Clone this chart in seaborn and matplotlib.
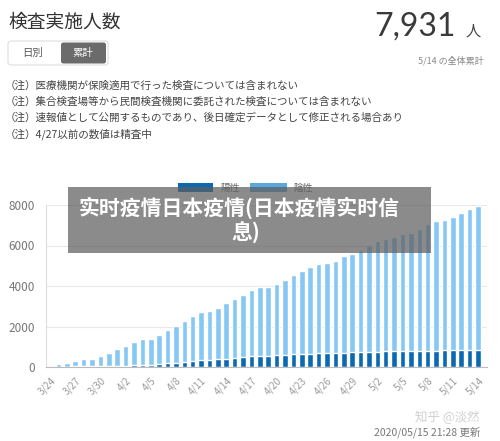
import numpy as np
import pandas as pd
import seaborn as sns
import matplotlib.pyplot as plt
from matplotlib.patches import Rectangle, FancyBboxPatch

sns.set_theme(style='white')
plt.rcParams['font.family'] = ['Noto Sans CJK JP', 'DejaVu Sans']

# data
dates = ['3/24', '3/25', '3/26', '3/27', '3/28', '3/29', '3/30', '3/31',
         '4/1', '4/2', '4/3', '4/4', '4/5', '4/6', '4/7', '4/8', '4/9', '4/10',
         '4/11', '4/12', '4/13', '4/14', '4/15', '4/16', '4/17', '4/18', '4/19',
         '4/20', '4/21', '4/22', '4/23', '4/24', '4/25', '4/26', '4/27', '4/28',
         '4/29', '4/30', '5/1', '5/2', '5/3', '5/4', '5/5', '5/6', '5/7', '5/8',
         '5/9', '5/10', '5/11', '5/12', '5/13', '5/14']
total = [70, 170, 220, 300, 390, 410, 540, 710, 890, 1040, 1220, 1370, 1390,
         1590, 1820, 2020, 2250, 2540, 2740, 2750, 2920, 3140, 3350, 3580,
         3780, 3950, 3960, 4110, 4310, 4540, 4750, 4940, 5100, 5130, 5220,
         5480, 5600, 5760, 6030, 6220, 6340, 6400, 6550, 6600, 6800, 7040,
         7220, 7240, 7400, 7620, 7820, 7931]
positive = [10, 15, 20, 25, 30, 35, 40, 50, 60, 70, 80, 100, 110, 150, 180,
            220, 250, 300, 340, 345, 380, 410, 430, 490, 520, 540, 545, 570,
            600, 620, 640, 655, 670, 675, 690, 705, 720, 735, 750, 755, 770,
            775, 785, 790, 800, 805, 810, 820, 825, 835, 840, 850]
negative = [t - p for t, p in zip(total, positive)]
yticks = [0, 2000, 4000, 6000, 8000]

df = pd.DataFrame({'date': dates, 'positive': positive, 'negative': negative})
df['total'] = df['positive'] + df['negative']

light = '#86c8f4'
dark = '#0b69b3'

W, H = 500, 441
fig = plt.figure(figsize=(W / 100, H / 100), dpi=100)

def px(x, y):
    return x / W, 1 - y / H

# header
fig.text(*px(8, 22), '検査実施人数', fontsize=13.5, color='#333333', va='center')
fig.text(*px(456, 27), '7,931', fontsize=23, color='#3a3a3a', va='center', ha='right',
         family=['Lato', 'DejaVu Sans'])
fig.text(*px(473, 31), '人', fontsize=11, color='#444444', va='center', ha='center')
fig.text(*px(484, 61), '5/14 の全体累計', fontsize=6.5, color='#888888', va='center', ha='right')

# toggle
fig.patches.append(FancyBboxPatch(px(8, 65), 100 / W, 24 / H, boxstyle='round,pad=0,rounding_size=0.006',
                                  transform=fig.transFigure, facecolor='white', edgecolor='#dddddd', lw=0.8))
fig.patches.append(FancyBboxPatch(px(61, 63.5), 45 / W, 21 / H, boxstyle='round,pad=0,rounding_size=0.005',
                                  transform=fig.transFigure, facecolor='#6b6b6b', edgecolor='none'))
fig.text(*px(33, 53), '日別', fontsize=7.5, color='#555555', va='center', ha='center')
fig.text(*px(83, 53), '累計', fontsize=7.5, color='white', va='center', ha='center')

notes = ['（注）医療機関が保険適用で行った検査については含まれない',
         '（注）集合検査場等から民間検査機関に委託された検査については含まれない',
         '（注）速報値として公開するものであり、後日確定データとして修正される場合あり',
         '（注）4/27以前の数値は精査中']
for i, n in enumerate(notes):
    fig.text(*px(5, 86 + 16 * i), n, fontsize=7.6, color='#444444', va='center')

# chart
ax = fig.add_axes([46 / W, 1 - 367 / H, 441 / W, 162 / H])
sns.barplot(data=df, x='date', y='total', color=light, width=0.66, saturation=1, ax=ax)
sns.barplot(data=df, x='date', y='positive', color=dark, width=0.66, saturation=1, ax=ax)
ax.set_xlim(-0.48, 52.07)
ax.set_ylim(0, 8000)
ax.set_yticks(yticks)
ax.set_yticklabels([str(v) for v in yticks], fontsize=8.5, color='#777777')
ax.set_xticks(range(0, len(dates), 3))
ax.set_xticklabels(dates[::3], rotation=45, ha='right', rotation_mode='anchor',
                   fontsize=7, color='#999999')
ax.tick_params(axis='y', length=6, color='#cccccc', width=0.8, pad=2)
ax.tick_params(axis='x', length=0, pad=6)
ax.set_xlabel('')
ax.set_ylabel('')
ax.grid(axis='y', color='#e8e8e8', lw=0.8)
ax.set_axisbelow(True)
for s in ['top', 'right']:
    ax.spines[s].set_visible(False)
ax.spines['left'].set_color('#dddddd')
ax.spines['bottom'].set_color('#bbbbbb')
ax.spines['left'].set_linewidth(0.8)
ax.spines['bottom'].set_linewidth(0.8)

# legend
fig.patches.append(Rectangle(px(178, 192), 35 / W, 9 / H, transform=fig.transFigure,
                             facecolor=dark, edgecolor='none'))
fig.text(*px(220, 188), '陽性', fontsize=7, color='#666666', va='center')
fig.patches.append(Rectangle(px(250, 192), 37 / W, 9 / H, transform=fig.transFigure,
                             facecolor='#5aa8dc', edgecolor='none'))
fig.text(*px(293, 188), '陰性', fontsize=7, color='#666666', va='center')

# overlay caption
fig.patches.append(Rectangle(px(68, 253), 363 / W, 66 / H, transform=fig.transFigure,
                             facecolor='#5e5e5e', edgecolor='none', alpha=0.72, zorder=10))
fig.text(*px(239, 208), '实时疫情日本疫情(日本疫情实时信', fontsize=15, color='white',
         fontweight='bold', va='center', ha='center', family=['Noto Sans CJK SC', 'DejaVu Sans'], zorder=11)
fig.text(*px(246, 233), '息)', fontsize=15, color='white',
         fontweight='bold', va='center', ha='center', family=['Noto Sans CJK SC', 'DejaVu Sans'], zorder=11)

# footer
fig.text(*px(480, 417), '知乎 @淡然', fontsize=9, color='#d0d0d0', va='center', ha='right')
fig.text(*px(480, 432), '2020/05/15 21:28 更新', fontsize=7.5, color='#777777', va='center', ha='right')

fig.savefig('out.png', dpi=100)
